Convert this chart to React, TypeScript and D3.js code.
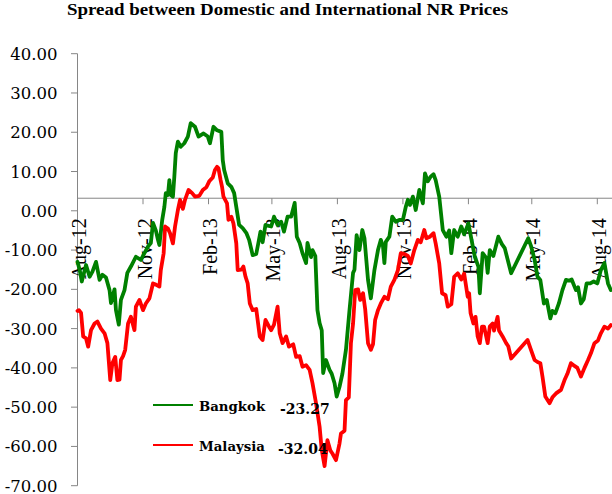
import React from "react";
import * as d3 from "d3";

const title = "Spread between Domestic and International NR Prices";

const bangkok: [string, number][] = [
  ["2012-08-01", -13], ["2012-08-04", -15], ["2012-08-07", -18], ["2012-08-13", -13.8],
  ["2012-08-18", -16.8], ["2012-08-22", -15.5], ["2012-08-27", -13], ["2012-09-01", -17.6],
  ["2012-09-05", -16.3], ["2012-09-10", -17], ["2012-09-15", -20.2], ["2012-09-17", -23.5],
  ["2012-09-22", -20], ["2012-09-24", -25.3], ["2012-09-28", -29], ["2012-10-01", -22.7],
  ["2012-10-06", -20.2], ["2012-10-10", -15.8], ["2012-10-15", -14.2], ["2012-10-22", -11.7],
  ["2012-10-29", -12.5], ["2012-11-03", -10.8], ["2012-11-08", -9.1], ["2012-11-12", -8.2],
  ["2012-11-15", -3.1], ["2012-11-19", -5], ["2012-11-22", -7.4], ["2012-11-24", -8.7],
  ["2012-11-28", -2.3], ["2012-12-01", 1], ["2012-12-03", 4.5], ["2012-12-06", 4],
  ["2012-12-08", 7.8], ["2012-12-10", 4], ["2012-12-13", 3.6], ["2012-12-15", 8.7],
  ["2012-12-17", 14.7], ["2012-12-20", 17.6], ["2012-12-24", 16.3], ["2012-12-29", 17.2],
  ["2013-01-03", 18.9], ["2013-01-07", 22.3], ["2013-01-13", 21.4], ["2013-01-18", 18.9],
  ["2013-01-25", 19.7], ["2013-01-31", 18.9], ["2013-02-03", 17.2], ["2013-02-08", 21.4],
  ["2013-02-13", 20.5], ["2013-02-19", 20.1], ["2013-02-21", 12.9], ["2013-02-23", 10.4],
  ["2013-02-28", 7], ["2013-03-05", 6.1], ["2013-03-09", 4.5], ["2013-03-12", 1],
  ["2013-03-16", -3.6], ["2013-03-21", -4.4], ["2013-03-26", -5.6], ["2013-03-30", -7.4],
  ["2013-04-04", -11.3], ["2013-04-09", -11], ["2013-04-12", -8.2], ["2013-04-15", -5.3],
  ["2013-04-18", -8], ["2013-04-22", -3.6], ["2013-04-25", -3.8], ["2013-04-30", -4],
  ["2013-05-04", -1.5], ["2013-05-09", -3.6], ["2013-05-14", -2.8], ["2013-05-18", -5.3],
  ["2013-05-23", -1.5], ["2013-05-28", -1.5], ["2013-06-02", 2], ["2013-06-05", -6.6],
  ["2013-06-09", -8.2], ["2013-06-13", -10.8], ["2013-06-18", -13.3], ["2013-06-20", -8.2],
  ["2013-06-25", -11.8], ["2013-06-27", -10], ["2013-07-01", -11.5], ["2013-07-04", -25.3],
  ["2013-07-07", -28.6], ["2013-07-10", -30.4], ["2013-07-12", -41.3], ["2013-07-16", -38],
  ["2013-07-21", -40.5], ["2013-07-24", -41.5], ["2013-07-28", -43.9], ["2013-07-31", -47.3],
  ["2013-08-04", -44.8], ["2013-08-08", -41.5], ["2013-08-13", -35.4], ["2013-08-18", -25.3],
  ["2013-08-23", -15.8], ["2013-08-25", -15], ["2013-08-28", -6.2], ["2013-09-01", -10],
  ["2013-09-05", -4.9], ["2013-09-08", -7], ["2013-09-13", -17.6], ["2013-09-17", -22.3],
  ["2013-09-22", -15.1], ["2013-09-27", -10], ["2013-10-01", -7.4], ["2013-10-04", -9],
  ["2013-10-06", -13.3], ["2013-10-08", -7.9], ["2013-10-13", -6.6], ["2013-10-17", -1.5],
  ["2013-10-22", -2.8], ["2013-10-27", -2.3], ["2013-11-01", -2.3], ["2013-11-05", 1],
  ["2013-11-08", 2.8], ["2013-11-11", 1.5], ["2013-11-15", 3.6], ["2013-11-19", 0.2],
  ["2013-11-24", 5.3], ["2013-11-29", 1.9], ["2013-12-02", 9.5], ["2013-12-06", 7.5],
  ["2013-12-10", 8.7], ["2013-12-14", 9.3], ["2013-12-17", 7.8], ["2013-12-22", 3.6],
  ["2013-12-27", -4.9], ["2014-01-01", -6.6], ["2014-01-05", -5], ["2014-01-08", -10.8],
  ["2014-01-12", -4.9], ["2014-01-17", -6.6], ["2014-01-22", -4], ["2014-01-26", -6],
  ["2014-02-01", -3.2], ["2014-02-06", -8], ["2014-02-10", -11.7], ["2014-02-15", -14.2],
  ["2014-02-17", -21], ["2014-02-21", -10.8], ["2014-02-26", -12], ["2014-02-28", -15.8],
  ["2014-03-03", -10], ["2014-03-08", -11.5], ["2014-03-15", -6.6], ["2014-03-20", -8.5],
  ["2014-03-24", -9.5], ["2014-04-02", -15.9], ["2014-04-26", -7], ["2014-04-30", -9],
  ["2014-05-05", -12.5], ["2014-05-09", -16.8], ["2014-05-13", -17.6], ["2014-05-18", -23.6],
  ["2014-05-22", -22.7], ["2014-05-27", -27.4], ["2014-05-30", -25.5], ["2014-06-03", -26.1],
  ["2014-06-08", -23.6], ["2014-06-13", -20.2], ["2014-06-18", -17.6], ["2014-06-22", -17.8],
  ["2014-06-26", -17.5], ["2014-07-02", -20.2], ["2014-07-05", -19.5], ["2014-07-09", -23.6],
  ["2014-07-13", -22.5], ["2014-07-17", -18.5], ["2014-07-22", -18.5], ["2014-07-27", -18],
  ["2014-08-01", -18.5], ["2014-08-06", -15.1], ["2014-08-11", -13.3], ["2014-08-16", -18.5],
  ["2014-08-20", -20.2],
];

const malaysia: [string, number][] = [
  ["2012-08-01", -25.5], ["2012-08-03", -25.3], ["2012-08-06", -26], ["2012-08-09", -32],
  ["2012-08-13", -32.5], ["2012-08-16", -34.6], ["2012-08-20", -30.4], ["2012-08-25", -28.7],
  ["2012-08-29", -28.2], ["2012-09-03", -30], ["2012-09-08", -31.2], ["2012-09-12", -33.7],
  ["2012-09-16", -43.1], ["2012-09-19", -38.8], ["2012-09-23", -37.2], ["2012-09-26", -43.1],
  ["2012-09-29", -43], ["2012-10-01", -38], ["2012-10-04", -37], ["2012-10-07", -35.4],
  ["2012-10-11", -28.7], ["2012-10-15", -27], ["2012-10-20", -30.4], ["2012-10-22", -24.4],
  ["2012-10-27", -22.7], ["2012-11-01", -25.3], ["2012-11-05", -23.6], ["2012-11-10", -22.3],
  ["2012-11-15", -18.5], ["2012-11-19", -18.8], ["2012-11-24", -19.3], ["2012-11-26", -15.1],
  ["2012-11-30", -10.8], ["2012-12-02", -4], ["2012-12-06", -4.5], ["2012-12-09", -5.7],
  ["2012-12-13", -8.3], ["2012-12-16", -4], ["2012-12-20", 0.2], ["2012-12-23", 2.8],
  ["2012-12-27", 0.5], ["2012-12-30", 2.8], ["2013-01-04", 5.3], ["2013-01-09", 4.5],
  ["2013-01-13", 3.6], ["2013-01-19", 3.8], ["2013-01-24", 5.3], ["2013-01-29", 6],
  ["2013-02-02", 7.5], ["2013-02-07", 8.5], ["2013-02-10", 10.4], ["2013-02-13", 11.2],
  ["2013-02-15", 10.8], ["2013-02-18", 7.8], ["2013-02-20", 6.1], ["2013-02-22", 3.6],
  ["2013-02-27", 1.9], ["2013-03-01", -2.3], ["2013-03-05", -1.5], ["2013-03-08", -3.2],
  ["2013-03-12", -8.3], ["2013-03-14", -15.1], ["2013-03-19", -15], ["2013-03-22", -14.2],
  ["2013-03-25", -16.8], ["2013-03-28", -18.5], ["2013-03-31", -23.6], ["2013-04-04", -25.3],
  ["2013-04-09", -25], ["2013-04-11", -27.8], ["2013-04-14", -32], ["2013-04-18", -32.9],
  ["2013-04-22", -27.8], ["2013-04-27", -29.5], ["2013-04-30", -30.4], ["2013-05-04", -29],
  ["2013-05-09", -24.4], ["2013-05-12", -31.2], ["2013-05-16", -33.7], ["2013-05-21", -32],
  ["2013-05-25", -34.6], ["2013-05-31", -34], ["2013-06-04", -37.2], ["2013-06-09", -37],
  ["2013-06-13", -39.7], ["2013-06-18", -39.3], ["2013-06-23", -40.5], ["2013-06-27", -43.9],
  ["2013-07-02", -49], ["2013-07-07", -55], ["2013-07-10", -60.9], ["2013-07-14", -65],
  ["2013-07-18", -58.4], ["2013-07-22", -61], ["2013-07-25", -61.8], ["2013-07-30", -63.5],
  ["2013-08-04", -59.2], ["2013-08-06", -56.7], ["2013-08-11", -56], ["2013-08-13", -48.2],
  ["2013-08-17", -47.5], ["2013-08-20", -33.7], ["2013-08-23", -28.7], ["2013-08-26", -20.2],
  ["2013-08-30", -20], ["2013-09-02", -22.7], ["2013-09-06", -21], ["2013-09-09", -25],
  ["2013-09-13", -33.7], ["2013-09-17", -35.4], ["2013-09-20", -34], ["2013-09-23", -27.8],
  ["2013-09-27", -25.3], ["2013-10-01", -23.6], ["2013-10-06", -21.9], ["2013-10-11", -22.5],
  ["2013-10-15", -19.3], ["2013-10-20", -17.6], ["2013-10-25", -15.1], ["2013-10-29", -10.8],
  ["2013-11-03", -11], ["2013-11-08", -11.5], ["2013-11-12", -13.4], ["2013-11-17", -10],
  ["2013-11-22", -7.4], ["2013-11-26", -8], ["2013-12-01", -4.9], ["2013-12-04", -7],
  ["2013-12-09", -6.6], ["2013-12-14", -5.7], ["2013-12-17", -8.3], ["2013-12-22", -13.4],
  ["2013-12-26", -21], ["2013-12-31", -21.5], ["2014-01-03", -24.4], ["2014-01-08", -23.8],
  ["2014-01-12", -16.8], ["2014-01-17", -15.9], ["2014-01-22", -17.5], ["2014-01-26", -16],
  ["2014-01-31", -21.9], ["2014-02-02", -21], ["2014-02-04", -26], ["2014-02-08", -28.7],
  ["2014-02-11", -27], ["2014-02-14", -32], ["2014-02-17", -33.7], ["2014-02-20", -29.5],
  ["2014-02-23", -29.5], ["2014-02-28", -33.7], ["2014-03-03", -29.5], ["2014-03-07", -28.7],
  ["2014-03-09", -30.5], ["2014-03-14", -27], ["2014-03-16", -30.5], ["2014-03-21", -32],
  ["2014-03-26", -33.7], ["2014-03-29", -34.5], ["2014-04-02", -37.6], ["2014-04-25", -32.9],
  ["2014-04-30", -35.5], ["2014-05-05", -38], ["2014-05-09", -38.5], ["2014-05-13", -38.8],
  ["2014-05-16", -42.2], ["2014-05-20", -47.3], ["2014-05-26", -49], ["2014-05-30", -47.5],
  ["2014-06-04", -46.5], ["2014-06-11", -45.6], ["2014-06-16", -43.1], ["2014-06-20", -41.5],
  ["2014-06-25", -38.8], ["2014-06-30", -39.5], ["2014-07-04", -40], ["2014-07-09", -42.2],
  ["2014-07-14", -40], ["2014-07-19", -38], ["2014-07-23", -36.3], ["2014-07-28", -33.7],
  ["2014-08-02", -33], ["2014-08-06", -31.2], ["2014-08-11", -29.5], ["2014-08-16", -30],
  ["2014-08-20", -29.1],
];

const yTicks = [40, 30, 20, 10, 0, -10, -20, -30, -40, -50, -60, -70];
const xTickDates = [
  "2012-08-01", "2012-11-01", "2013-02-01", "2013-05-01", "2013-08-01",
  "2013-11-01", "2014-02-01", "2014-05-01", "2014-08-01",
];
const xTickLabels = ["Aug-12", "Nov-12", "Feb-13", "May-13", "Aug-13", "Nov-13", "Feb-14", "May-14", "Aug-14"];
const seriesNames = ["Bangkok", "Malaysia"];
const seriesColors = ["#008000", "#ff0000"];
const legendValues = ["-23.27", "-32.04"];
const axisCrossValue = 3.2;

const W = 612;
const H = 494;
const parse = d3.utcParse("%Y-%m-%d");

export default function App() {
  const x = d3
    .scaleUtc()
    .domain([parse("2012-08-01")!, parse("2014-08-01")!])
    .range([77.5, 597.3]);
  const y = d3.scaleLinear().domain([-70, 40]).range([485.7, 53.7]);
  const line = d3
    .line<[string, number]>()
    .x((d) => x(parse(d[0])!))
    .y((d) => y(d[1]));
  const axisY = y(axisCrossValue);
  const axisColor = "#868686";
  const series = [bangkok, malaysia];

  return (
    <svg
      width={W}
      height={H}
      style={{ position: "fixed", left: 0, top: 0, background: "#fff" }}
    >
      <rect width={W} height={H} fill="#fff" />
      <text
        x={287.5}
        y={15}
        textAnchor="middle"
        fontFamily="'Liberation Serif', serif"
        fontWeight="bold"
        fontSize={17.5}
        textLength={441}
        lengthAdjust="spacingAndGlyphs"
        fill="#000"
      >
        {title}
      </text>

      {/* Y axis */}
      <line x1={77.5} x2={77.5} y1={y(40)} y2={y(-70)} stroke={axisColor} strokeWidth={1} />
      {yTicks.map((t) => (
        <g key={t}>
          <line x1={71} x2={77.5} y1={y(t)} y2={y(t)} stroke={axisColor} strokeWidth={1} />
          <text
            x={57.5}
            y={y(t) + 6}
            textAnchor="end"
            fontFamily="'DejaVu Serif', serif"
            fontSize={16.5}
            fill="#000"
          >
            {t.toFixed(2)}
          </text>
        </g>
      ))}

      {/* X axis */}
      <line x1={77.5} x2={W} y1={axisY} y2={axisY} stroke={axisColor} strokeWidth={1} />
      {xTickDates.map((d, i) => {
        const tx = x(parse(d)!);
        return (
          <g key={d}>
            <line x1={tx} x2={tx} y1={axisY} y2={axisY + 6} stroke={axisColor} strokeWidth={1} />
            <text
              transform={`translate(${tx + 8.5},${axisY + 20}) rotate(-90)`}
              textAnchor="end"
              fontFamily="'Liberation Serif', serif"
              fontSize={20}
              fill="#000"
            >
              {xTickLabels[i]}
            </text>
          </g>
        );
      })}

      {/* Series */}
      {series.map((s, i) => (
        <path
          key={seriesNames[i]}
          d={line(s) || ""}
          fill="none"
          stroke={seriesColors[i]}
          strokeWidth={3.8}
          strokeLinejoin="round"
          strokeLinecap="round"
        />
      ))}

      {/* Legend */}
      {seriesNames.map((n, i) => {
        const ly = 405 + i * 40;
        return (
          <g key={n}>
            <line x1={153} x2={193} y1={ly} y2={ly} stroke={seriesColors[i]} strokeWidth={2.2} />
            <text
              x={199}
              y={ly + 5.5}
              fontFamily="'DejaVu Serif', serif"
              fontWeight="bold"
              fontSize={13.3}
              fill="#000"
            >
              {n}
            </text>
            <text
              x={280 - i * 2}
              y={ly + 9}
              fontFamily="'DejaVu Serif', serif"
              fontWeight="bold"
              fontSize={14}
              fill="#000"
            >
              {legendValues[i]}
            </text>
          </g>
        );
      })}
    </svg>
  );
}
